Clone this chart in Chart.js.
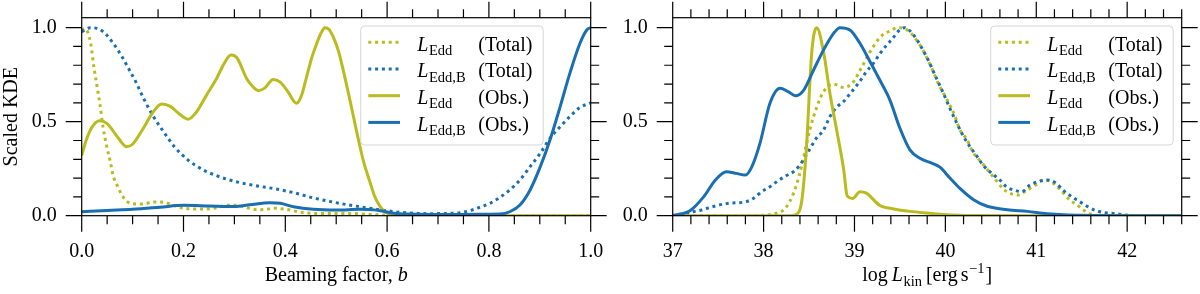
<!DOCTYPE html>
<html lang="en">
<head>
<meta charset="UTF-8">
<title>Scaled KDE</title>
<script src="https://cdn.jsdelivr.net/npm/chart.js"></script>
<style>
  html, body { margin: 0; padding: 0; background: #fff; }
  #wrap { position: relative; width: 1200px; height: 294px; overflow: hidden; }
  .panel { position: absolute; top: 0; height: 294px; }
</style>
</head>
<body>
<div id="wrap">
  <div class="panel" style="left:0; width:620px"><canvas id="beam"></canvas></div>
  <div class="panel" style="left:600px; width:600px"><canvas id="kin"></canvas></div>
</div>
<script>
// ---- left panel: beaming factor b ----
const beamEddTotX = [0, 0.006, 0.012, 0.018, 0.024, 0.03, 0.036, 0.042, 0.049, 0.056, 0.062, 0.07, 0.079, 0.088, 0.1, 0.12, 0.141, 0.16, 0.18, 0.2, 0.23, 0.26, 0.285, 0.305, 0.325, 0.345, 0.36, 0.378, 0.395, 0.41, 0.43, 0.46, 0.5, 0.54, 0.58, 0.62, 0.7, 0.8, 0.9, 1.0];
const beamEddTotY = [0.985, 0.995, 0.975, 0.91, 0.79, 0.69, 0.59, 0.47, 0.37, 0.29, 0.21, 0.16, 0.11, 0.078, 0.064, 0.062, 0.073, 0.072, 0.055, 0.04, 0.035, 0.04, 0.055, 0.056, 0.042, 0.032, 0.033, 0.04, 0.036, 0.03, 0.018, 0.012, 0.012, 0.01, 0.005, 0.002, 0, 0, 0, 0];

const beamEddBTotX = [0, 0.017, 0.035, 0.049, 0.061, 0.072, 0.081, 0.09, 0.107, 0.123, 0.141, 0.161, 0.182, 0.209, 0.239, 0.274, 0.309, 0.345, 0.382, 0.417, 0.453, 0.489, 0.525, 0.56, 0.6, 0.64, 0.68, 0.72, 0.743, 0.763, 0.782, 0.802, 0.822, 0.841, 0.861, 0.881, 0.901, 0.92, 0.94, 0.959, 0.979, 1.0];
const beamEddBTotY = [0.979, 1.0, 0.991, 0.961, 0.92, 0.877, 0.837, 0.793, 0.708, 0.616, 0.527, 0.446, 0.367, 0.296, 0.243, 0.204, 0.177, 0.158, 0.142, 0.122, 0.096, 0.075, 0.057, 0.042, 0.026, 0.015, 0.011, 0.012, 0.016, 0.027, 0.045, 0.066, 0.098, 0.137, 0.19, 0.261, 0.332, 0.411, 0.473, 0.527, 0.576, 0.6];

const beamEddObsX = [0, 0.01, 0.02, 0.035, 0.05, 0.07, 0.088, 0.1, 0.12, 0.14, 0.157, 0.175, 0.19, 0.209, 0.225, 0.245, 0.265, 0.28, 0.293, 0.305, 0.324, 0.335, 0.347, 0.36, 0.376, 0.39, 0.405, 0.422, 0.432, 0.442, 0.452, 0.462, 0.47, 0.478, 0.486, 0.494, 0.505, 0.515, 0.527, 0.54, 0.553, 0.565, 0.576, 0.586, 0.596, 0.61, 0.64, 0.7, 0.8, 0.9, 1.0];
const beamEddObsY = [0.32, 0.41, 0.47, 0.505, 0.49, 0.42, 0.367, 0.38, 0.46, 0.55, 0.594, 0.58, 0.545, 0.513, 0.55, 0.64, 0.73, 0.81, 0.855, 0.84, 0.73, 0.69, 0.665, 0.68, 0.725, 0.71, 0.66, 0.598, 0.64, 0.74, 0.84, 0.917, 0.97, 1.0, 0.99, 0.952, 0.87, 0.76, 0.615, 0.45, 0.296, 0.19, 0.10, 0.05, 0.02, 0.006, 0.001, 0, 0, 0, 0];

const beamEddBObsX = [0, 0.05, 0.1, 0.154, 0.2, 0.25, 0.3, 0.33, 0.37, 0.39, 0.416, 0.455, 0.5, 0.547, 0.575, 0.59, 0.606, 0.625, 0.645, 0.69, 0.75, 0.8, 0.822, 0.841, 0.861, 0.881, 0.901, 0.92, 0.94, 0.959, 0.979, 0.993, 1.0];
const beamEddBObsY = [0.021, 0.028, 0.034, 0.045, 0.055, 0.052, 0.049, 0.058, 0.069, 0.066, 0.048, 0.034, 0.03, 0.034, 0.031, 0.025, 0.016, 0.011, 0.009, 0.007, 0.007, 0.008, 0.009, 0.021, 0.057, 0.137, 0.261, 0.403, 0.58, 0.757, 0.917, 0.99, 1.0];

// ---- right panel: log L_kin ----
const kinEddTotX = [37, 37.9, 38.03, 38.14, 38.24, 38.33, 38.39, 38.445, 38.51, 38.58, 38.66, 38.77, 38.88, 38.98, 39.08, 39.17, 39.28, 39.39, 39.48, 39.57, 39.72, 39.85, 39.93, 40.02, 40.10, 40.16, 40.24, 40.30, 40.38, 40.45, 40.57, 40.63, 40.71, 40.80, 40.90, 40.99, 41.08, 41.16, 41.23, 41.30, 41.37, 41.45, 41.53, 41.6, 41.7, 42.6];
const kinEddTotY = [0, 0, 0.003, 0.013, 0.04, 0.12, 0.21, 0.32, 0.46, 0.57, 0.66, 0.70, 0.682, 0.707, 0.79, 0.87, 0.948, 0.983, 1.0, 0.991, 0.908, 0.784, 0.695, 0.615, 0.536, 0.456, 0.403, 0.34, 0.293, 0.252, 0.181, 0.146, 0.119, 0.11, 0.137, 0.163, 0.19, 0.181, 0.155, 0.119, 0.083, 0.057, 0.026, 0.009, 0, 0];

const kinEddBTotX = [37, 37.1, 37.21, 37.32, 37.43, 37.6, 37.81, 37.89, 37.98, 38.07, 38.16, 38.25, 38.34, 38.40, 38.46, 38.52, 38.58, 38.66, 38.73, 38.81, 38.88, 38.94, 39.00, 39.07, 39.13, 39.21, 39.27, 39.34, 39.42, 39.48, 39.55, 39.65, 39.81, 39.89, 39.97, 40.05, 40.13, 40.20, 40.27, 40.35, 40.42, 40.51, 40.60, 40.67, 40.75, 40.84, 40.93, 41.02, 41.12, 41.21, 41.30, 41.39, 41.48, 41.57, 41.67, 41.76, 41.87, 41.96, 42.1, 42.6];
const kinEddBTotY = [0, 0.008, 0.02, 0.03, 0.047, 0.065, 0.075, 0.093, 0.128, 0.154, 0.186, 0.213, 0.238, 0.27, 0.315, 0.364, 0.412, 0.456, 0.527, 0.58, 0.607, 0.642, 0.678, 0.722, 0.766, 0.811, 0.855, 0.899, 0.943, 0.98, 1.0, 0.961, 0.828, 0.743, 0.66, 0.571, 0.488, 0.421, 0.367, 0.314, 0.266, 0.225, 0.19, 0.154, 0.137, 0.128, 0.163, 0.181, 0.19, 0.176, 0.133, 0.101, 0.074, 0.047, 0.025, 0.016, 0.011, 0.005, 0, 0];

const kinEddObsX = [37, 38, 38.3, 38.35, 38.42, 38.47, 38.53, 38.585, 38.66, 38.73, 38.81, 38.88, 38.92, 38.98, 39.06, 39.13, 39.28, 39.43, 39.61, 39.8, 40.02, 40.3, 41, 42.6];
const kinEddObsY = [0, 0, 0, 0.005, 0.08, 0.35, 0.87, 1.0, 0.87, 0.65, 0.44, 0.25, 0.105, 0.092, 0.127, 0.12, 0.054, 0.036, 0.023, 0.014, 0.005, 0.001, 0, 0];

const kinEddBObsX = [37, 37.1, 37.19, 37.34, 37.47, 37.59, 37.70, 37.80, 37.87, 37.96, 38.07, 38.18, 38.27, 38.35, 38.44, 38.55, 38.66, 38.77, 38.84, 38.95, 39.06, 39.17, 39.28, 39.39, 39.5, 39.61, 39.72, 39.83, 39.94, 40.05, 40.16, 40.31, 40.46, 40.68, 40.9, 41.12, 41.3, 41.5, 42, 42.6];
const kinEddBObsY = [0.002, 0.01, 0.026, 0.1, 0.19, 0.234, 0.225, 0.216, 0.26, 0.385, 0.598, 0.678, 0.66, 0.638, 0.667, 0.775, 0.882, 0.97, 1.0, 0.988, 0.917, 0.82, 0.72, 0.615, 0.465, 0.35, 0.305, 0.283, 0.258, 0.2, 0.145, 0.085, 0.05, 0.032, 0.023, 0.011, 0.005, 0.002, 0, 0];

// legend text, in legend order
const legendSubs = ['Edd', 'Edd,B', 'Edd', 'Edd,B'];
const legendTags = ['(Total)', '(Total)', '(Obs.)', '(Obs.)'];

const OLIVE = '#b9bb1e';
const BLUE = '#1a6fb2';
const FAMILY = "'Liberation Serif', 'Times New Roman', serif";
const Y_MAX = 1.053;

Chart.defaults.font.family = FAMILY;
Chart.defaults.font.size = 20;
Chart.defaults.color = '#000';

function font(size, italic) {
  return (italic ? 'italic ' : '') + size + 'px ' + FAMILY;
}

// draw text pieces one after another, returns the width
function drawRun(ctx, pieces, x, y, dry) {
  let cx = x;
  for (const p of pieces) {
    ctx.font = font(p.sz || 20, p.it);
    if (!dry) ctx.fillText(p.t, cx, y + (p.dy || 0));
    cx += ctx.measureText(p.t).width + (p.gap || 0);
  }
  return cx - x;
}

function pts(xs, ys) {
  return xs.map((x, i) => ({ x: x, y: ys[i] }));
}

// spines plus major/minor ticks on all four sides, pointing out
const framePlugin = {
  id: 'frame',
  afterDraw(chart, args, opts) {
    const { ctx, chartArea: a } = chart;
    const xs = chart.scales.x, ys = chart.scales.y;
    ctx.save();
    ctx.strokeStyle = '#000';
    ctx.lineWidth = 1.2;
    ctx.strokeRect(a.left, a.top, a.right - a.left, a.bottom - a.top);
    ctx.beginPath();
    const nx = Math.round((xs.max - xs.min) / opts.xMinor);
    for (let i = 0; i <= nx; i++) {
      const v = xs.min + i * opts.xMinor;
      const r = v / opts.xMajor;
      const len = Math.abs(r - Math.round(r)) < 1e-6 ? 16 : 8.5;
      const px = xs.getPixelForValue(v);
      ctx.moveTo(px, a.bottom); ctx.lineTo(px, a.bottom + len);
      ctx.moveTo(px, a.top); ctx.lineTo(px, a.top - len);
    }
    const ny = Math.floor(ys.max / opts.yMinor + 1e-6);
    for (let i = 0; i <= ny; i++) {
      const v = i * opts.yMinor;
      const r = v / opts.yMajor;
      const len = Math.abs(r - Math.round(r)) < 1e-6 ? 16 : 8.5;
      const py = ys.getPixelForValue(v);
      ctx.moveTo(a.left, py); ctx.lineTo(a.left - len, py);
      ctx.moveTo(a.right, py); ctx.lineTo(a.right + len, py);
    }
    ctx.stroke();
    ctx.restore();
  }
};

// legend with mathtext-like subscripts
const kdeLegend = {
  id: 'kdeLegend',
  afterDraw(chart, args, opts) {
    const { ctx, chartArea: a } = chart;
    const bx = a.left + opts.x, by = a.top + opts.y, bw = 182.5, bh = 119;
    ctx.save();
    ctx.fillStyle = 'rgba(255,255,255,0.8)';
    ctx.strokeStyle = 'rgba(204,204,204,0.8)';
    ctx.lineWidth = 1;
    ctx.beginPath();
    ctx.roundRect(bx, by, bw, bh, 4);
    ctx.fill();
    ctx.stroke();
    const sets = chart.data.datasets.slice().sort((p, q) => p.legendIndex - q.legendIndex);
    sets.forEach((ds, i) => {
      const cy = by + 16.3 + i * 26.7;
      ctx.strokeStyle = ds.borderColor;
      ctx.lineWidth = 3;
      ctx.lineCap = 'butt';
      ctx.setLineDash(ds.borderDash || []);
      ctx.beginPath();
      ctx.moveTo(bx + 7.6, cy);
      ctx.lineTo(bx + 39.3, cy);
      ctx.stroke();
      ctx.setLineDash([]);
      ctx.fillStyle = '#000';
      ctx.textBaseline = 'alphabetic';
      ctx.textAlign = 'left';
      drawRun(ctx, [{ t: 'L', it: true, gap: 0.5 }, { t: legendSubs[i], sz: 14.5, dy: 4.5 }], bx + 56.6, cy + 8.2);
      drawRun(ctx, [{ t: legendTags[i] }], bx + 117.6, cy + 8.2);
    });
    ctx.restore();
  }
};

// axis titles drawn as text runs (italic symbols, sub/superscripts)
const axisText = {
  id: 'axisText',
  afterDraw(chart, args, opts) {
    const { ctx, chartArea: a } = chart;
    ctx.save();
    ctx.fillStyle = '#000';
    ctx.textBaseline = 'alphabetic';
    ctx.textAlign = 'left';
    const w = drawRun(ctx, opts.xTitle, 0, 0, true);
    drawRun(ctx, opts.xTitle, (a.left + a.right) / 2 - w / 2, 281);
    if (opts.yTitle) {
      ctx.translate(17, (a.top + a.bottom) / 2);
      ctx.rotate(-Math.PI / 2);
      ctx.font = font(20, false);
      ctx.textAlign = 'center';
      ctx.fillText(opts.yTitle, 0, 0);
    }
    ctx.restore();
  }
};

function series(data, color, dotted, legendIndex, order) {
  return {
    data: data,
    borderColor: color,
    borderWidth: 3,
    borderDash: dotted ? [3, 3.8] : [],
    borderCapStyle: 'butt',
    pointRadius: 0,
    fill: false,
    cubicInterpolationMode: 'monotone',
    legendIndex: legendIndex,
    order: order
  };
}

function makeChart(id, c) {
  return new Chart(document.getElementById(id), {
    type: 'line',
    data: {
      datasets: [
        series(pts(c.totX[0], c.totY[0]), OLIVE, true, 0, 3),
        series(pts(c.totX[1], c.totY[1]), BLUE, true, 1, 2),
        series(pts(c.obsX[0], c.obsY[0]), OLIVE, false, 2, 1),
        series(pts(c.obsX[1], c.obsY[1]), BLUE, false, 3, 0)
      ]
    },
    options: {
      responsive: true,
      maintainAspectRatio: false,
      animation: false,
      layout: { padding: { top: 17.7, right: c.padRight, left: 0, bottom: 0 } },
      scales: {
        x: {
          type: 'linear',
          min: c.xMin,
          max: c.xMax,
          grid: { display: false, drawTicks: false },
          border: { display: false },
          ticks: {
            stepSize: c.xStep,
            includeBounds: false,
            autoSkip: false,
            maxRotation: 0,
            padding: 24,
            color: '#000',
            callback: v => v.toFixed(c.xDigits)
          },
          afterFit(s) {
            s.height = 78.3;
            s.paddingLeft = 0;
            s.paddingRight = 0;
          }
        },
        y: {
          type: 'linear',
          min: 0,
          max: Y_MAX,
          grid: { display: false, drawTicks: false },
          border: { display: false },
          ticks: {
            stepSize: 0.5,
            includeBounds: false,
            padding: 25,
            color: '#000',
            callback: v => v.toFixed(1)
          },
          afterFit(s) {
            s.width = c.yWidth;
            s.paddingTop = 0;
            s.paddingBottom = 0;
          }
        }
      },
      plugins: {
        legend: { display: false },
        tooltip: { enabled: false },
        frame: { xMajor: c.xStep, xMinor: c.xMinor, yMajor: 0.5, yMinor: 0.1 },
        kdeLegend: { x: c.legendX, y: 8.3 },
        axisText: { xTitle: c.xTitle, yTitle: c.yTitle }
      }
    },
    plugins: [framePlugin, kdeLegend, axisText]
  });
}

// left canvas is 620 wide so the last tick label is not cut; the right one sits on top
makeChart('beam', {
  totX: [beamEddTotX, beamEddBTotX], totY: [beamEddTotY, beamEddBTotY],
  obsX: [beamEddObsX, beamEddBObsX], obsY: [beamEddObsY, beamEddBObsY],
  xMin: 0, xMax: 1, xStep: 0.2, xMinor: 0.05, xDigits: 1,
  yWidth: 81.7, padRight: 29.3, legendX: 279,
  xTitle: [{ t: 'Beaming factor, ' }, { t: 'b', it: true }],
  yTitle: 'Scaled KDE'
});

makeChart('kin', {
  totX: [kinEddTotX, kinEddBTotX], totY: [kinEddTotY, kinEddBTotY],
  obsX: [kinEddObsX, kinEddBObsX], obsY: [kinEddObsY, kinEddBObsY],
  xMin: 37, xMax: 42.6, xStep: 1, xMinor: 0.2, xDigits: 0,
  yWidth: 72.7, padRight: 18.3, legendX: 318,
  xTitle: [{ t: 'log', gap: 4 }, { t: 'L', it: true, gap: 0.5 }, { t: 'kin', sz: 14.5, dy: 4.5, gap: 4 },
           { t: '[erg', gap: 3 }, { t: 's', gap: 0.5 }, { t: '\u22121', sz: 14.5, dy: -8.5, gap: 1 }, { t: ']' }],
  yTitle: null
});
</script>
</body>
</html>
